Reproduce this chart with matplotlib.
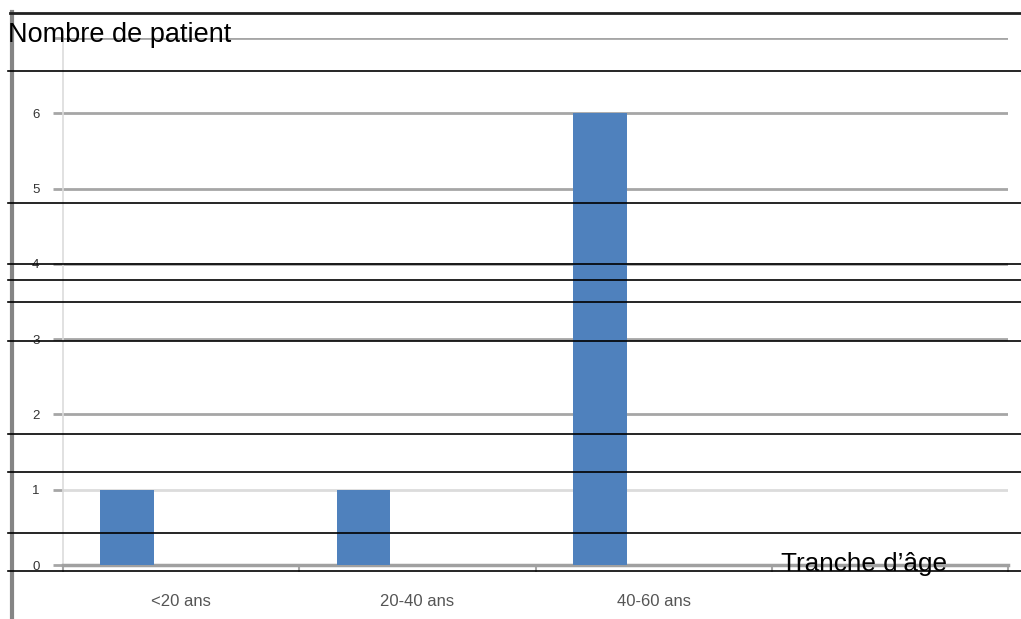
import matplotlib
matplotlib.use("Agg")
import matplotlib.pyplot as plt
from matplotlib.lines import Line2D

# data
categories = ["<20 ans", "20-40 ans", "40-60 ans", ""]
patients = [1, 1, 6, 0]
y_ticks = [0, 1, 2, 3, 4, 5, 6, 7]
y_labels = ["0", "1", "2", "3", "4", "5", "6", ""]

# stray ruled lines of the scanned page (pixel rows)
rule_rows = [71, 203, 264, 280, 302, 341, 434, 472, 533, 571]

W, H = 1021, 619
fig = plt.figure(figsize=(W / 100, H / 100), dpi=100)
plt.rcParams["font.family"] = ["Liberation Sans", "DejaVu Sans"]

ax = fig.add_axes([63 / W, 1 - 565 / H, (1008 - 63) / W, (565 - 38) / H])

bar_w = 0.228
xs = list(range(len(categories)))
ax.bar([x - bar_w for x in xs], patients, width=bar_w, color="#4F81BD", zorder=3)

ax.set_xlim(-0.5, len(categories) - 0.5)
ax.set_ylim(0, 7)

ax.set_yticks(y_ticks)
ax.set_yticklabels(y_labels, fontsize=9.5, color="#333333")
ax.tick_params(axis="y", length=7, width=2, color="#a6a6a6", pad=10)
ax.yaxis.grid(True, color="#a6a6a6", lw=2)
ax.set_axisbelow(True)
# the "1" gridline is much fainter on the scan
ax.get_ygridlines()[1].set_color("#dcdcdc")
ax.yaxis.get_major_ticks()[1].tick1line.set_color("#dcdcdc")

ax.set_xticks(xs)
ax.set_xticklabels(categories, fontsize=12, color="#555555")
ax.tick_params(axis="x", length=0, pad=21)
ax.set_xticks([x - 0.5 for x in xs] + [xs[-1] + 0.5], minor=True)
ax.tick_params(axis="x", which="minor", length=5, width=1.5, color="#a6a6a6")

for s in ["top", "right"]:
    ax.spines[s].set_visible(False)
ax.spines["left"].set_color("#dcdcdc")
ax.spines["left"].set_linewidth(1.2)
ax.spines["bottom"].set_color("#a0a0a0")
ax.spines["bottom"].set_linewidth(2.5)

# page border and ruled lines
fig.add_artist(Line2D([12 / W, 12 / W], [0, 1 - 12 / H], color="#858585", lw=3))
fig.add_artist(Line2D([10 / W, 1], [1 - 12.5 / H, 1 - 12.5 / H], color="#202020", lw=2))
for r in rule_rows:
    fig.add_artist(Line2D([8 / W, 1], [1 - r / H, 1 - r / H], color="black", lw=1.2, zorder=10))

fig.text(8 / W, 1 - 42 / H, "Nombre de patient", fontsize=19.5, color="black",
         va="baseline", ha="left", zorder=11)
fig.text(781 / W, 1 - 571 / H, "Tranche d\u2019âge", fontsize=18.8, color="black",
         va="baseline", ha="left", zorder=11)

fig.savefig("out.png", dpi=100)
